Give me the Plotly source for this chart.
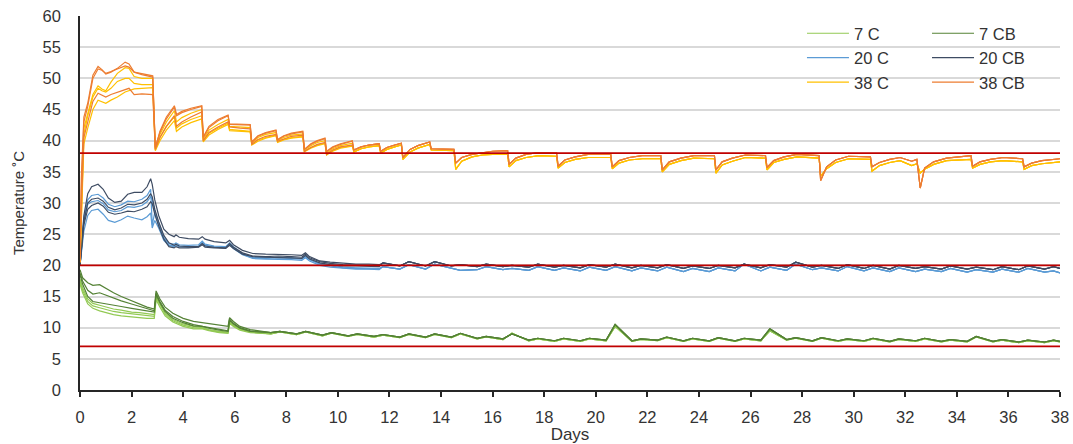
import plotly.graph_objects as go

# ---------------------------------------------------------------------------
# 38 °C treatment: first 10.5 days on a shared grid, one list per replicate
# ---------------------------------------------------------------------------
days_hot_early = [0, 0.05, 0.15, 0.3, 0.5, 0.7, 0.85, 1.0, 1.2, 1.45, 1.75, 1.9,
                  2.1, 2.4, 2.82, 2.92, 3.1, 3.35, 3.66, 3.74, 3.95, 4.3, 4.72,
                  4.78, 5.0, 5.35, 5.74, 5.8, 6.2, 6.6, 6.66, 6.9, 7.2, 7.6, 7.66,
                  7.9, 8.2, 8.64, 8.7, 8.95, 9.2, 9.5, 9.56, 9.8, 10.1, 10.56]

hot_cb1_early = [21, 34, 43.8, 46.0, 50.5, 51.9, 51.4, 50.7, 51.0, 51.6, 52.6, 52.3,
                 51.0, 50.8, 50.4, 38.8, 41.5, 43.8, 45.6, 44.2, 44.7, 45.2, 45.6,
                 40.6, 42.3, 43.4, 44.1, 42.7, 42.7, 42.6, 39.8, 40.8, 41.3, 41.7, 40.2,
                 40.8, 41.2, 41.5, 38.6, 39.5, 40.0, 40.4, 38.3, 39.0, 39.5, 40.0]
hot_cb2_early = [21, 32, 43.0, 45.5, 50.0, 51.5, 51.3, 50.8, 51.1, 51.5, 52.0, 51.8,
                 51.0, 50.6, 50.2, 39.0, 41.3, 43.5, 45.4, 44.0, 44.5, 45.0, 45.5,
                 40.5, 42.1, 43.2, 44.0, 42.6, 42.6, 42.5, 39.7, 40.7, 41.2, 41.6, 40.1,
                 40.7, 41.1, 41.4, 38.6, 39.4, 39.9, 40.3, 38.2, 38.9, 39.4, 39.9]
hot_cb3_early = [20.5, 29, 40.5, 43.2, 46.3, 47.6, 47.3, 47.0, 47.4, 47.8, 48.2, 48.4,
                 47.4, 47.5, 47.4, 38.6, 40.5, 42.3, 44.0, 42.3, 43.0, 43.8, 44.6,
                 40.0, 41.3, 42.2, 43.0, 42.2, 42.0, 41.9, 39.4, 40.2, 40.7, 41.0, 39.9,
                 40.3, 40.7, 40.9, 38.3, 38.9, 39.4, 39.7, 37.8, 38.5, 39.0, 39.3]
hot_c1_early = [20.5, 30, 42.0, 44.5, 47.4, 48.8, 48.3, 48.0, 49.4, 50.8, 51.7, 51.6,
                50.3, 50.0, 50.0, 38.7, 41.0, 43.0, 44.8, 43.0, 43.7, 44.4, 45.0,
                40.3, 41.7, 42.6, 43.4, 42.3, 42.2, 42.1, 39.6, 40.5, 41.0, 41.3, 40.0,
                40.5, 40.9, 41.1, 38.5, 39.2, 39.7, 40.0, 38.0, 38.7, 39.2, 39.6]
hot_c2_early = [20.5, 28, 41.0, 44.0, 47.0, 48.4, 48.0, 47.8, 48.4, 49.5, 50.0, 50.0,
                49.2, 49.0, 49.0, 38.5, 40.5, 42.3, 43.8, 42.0, 42.7, 43.4, 44.0,
                40.0, 41.2, 42.0, 42.8, 41.8, 41.6, 41.5, 39.4, 40.1, 40.5, 40.9, 39.8,
                40.2, 40.5, 40.7, 38.3, 38.9, 39.3, 39.6, 37.8, 38.4, 38.9, 39.2]
hot_c3_early = [20.5, 27, 39.5, 42.0, 45.0, 46.5, 46.2, 46.0, 46.5, 47.0, 47.8, 48.0,
                48.3, 48.4, 48.5, 38.4, 40.0, 41.7, 43.2, 41.5, 42.2, 42.9, 43.5,
                39.8, 40.9, 41.8, 42.6, 41.6, 41.5, 41.4, 39.3, 39.9, 40.4, 40.8, 39.7,
                40.1, 40.4, 40.6, 38.2, 38.8, 39.2, 39.5, 37.7, 38.3, 38.8, 39.1]

# 38 °C treatment: remainder of the run, replicates of a series coincide
days_hot_late = [10.62, 10.9, 11.2, 11.6, 11.66, 11.9, 12.2, 12.46, 12.52, 12.8, 13.1,
                 13.56, 13.62, 14.0, 14.5, 14.57, 14.8, 15.2, 15.6, 16.0, 16.58, 16.64,
                 16.9, 17.3, 17.8, 18.48, 18.54, 18.8, 19.2, 19.7, 20.58, 20.64, 20.9,
                 21.3, 21.8, 22.52, 22.58, 22.85, 23.3, 23.8, 24.6, 24.66, 24.9, 25.3,
                 25.8, 26.58, 26.64, 26.9, 27.3, 27.8, 28.66, 28.72, 28.95, 29.3, 29.8,
                 30.65, 30.71, 31.0, 31.4, 31.8, 32.25, 32.45, 32.58, 32.75, 33.1, 33.6,
                 34.55, 34.61, 34.9, 35.3, 35.8, 36.55, 36.61, 36.9, 37.3, 38.0]
hot_cb_late = [38.5, 39.0, 39.3, 39.5, 38.3, 38.9, 39.3, 39.6, 37.3, 38.6, 39.2,
               39.8, 38.7, 38.7, 38.6, 36.4, 37.3, 37.8, 38.1, 38.3, 38.4, 36.2,
               37.2, 37.8, 38.1, 38.0, 35.9, 36.9, 37.4, 37.8, 37.8, 35.8, 36.8,
               37.3, 37.6, 37.6, 35.3, 36.6, 37.2, 37.6, 37.6, 35.3, 36.6, 37.2,
               37.7, 37.6, 35.7, 36.8, 37.4, 37.8, 37.6, 33.6, 35.8, 36.9, 37.5,
               37.4, 35.8, 36.5, 37.0, 37.3, 36.7, 37.0, 32.4, 35.6, 36.6, 37.2,
               37.6, 35.9, 36.6, 37.0, 37.3, 37.1, 35.8, 36.4, 36.8, 37.1]
hot_c_late = [38.2, 38.7, 39.0, 39.2, 38.0, 38.6, 39.0, 39.3, 37.0, 38.2, 38.8,
              39.4, 38.5, 38.5, 38.4, 35.4, 36.7, 37.4, 37.7, 37.8, 37.8, 35.8,
              36.8, 37.3, 37.6, 37.5, 35.6, 36.5, 37.0, 37.3, 37.3, 35.5, 36.4,
              36.9, 37.1, 37.1, 35.0, 36.2, 36.8, 37.2, 37.1, 34.8, 36.1, 36.7,
              37.3, 37.2, 35.3, 36.5, 37.0, 37.4, 37.2, 34.3, 35.5, 36.5, 37.1,
              37.0, 35.1, 36.0, 36.5, 36.8, 36.0, 36.3, 34.8, 35.4, 36.2, 36.8,
              37.0, 35.6, 36.2, 36.6, 36.8, 36.6, 35.4, 36.0, 36.3, 36.6]

# ---------------------------------------------------------------------------
# 20 °C treatment
# ---------------------------------------------------------------------------
days_mid_early = [0, 0.05, 0.15, 0.3, 0.45, 0.7, 0.9, 1.1, 1.35, 1.6, 1.85, 2.1, 2.4,
                  2.6, 2.74, 2.8, 2.9, 3.05, 3.25, 3.45, 3.65, 3.72, 3.85, 4.2, 4.6,
                  4.74, 4.85, 5.2, 5.65, 5.8, 5.95, 6.3, 6.7, 7.2, 7.7, 8.2, 8.6, 8.74,
                  8.9, 9.3, 9.7, 10.2, 10.7, 11.2, 11.6]

mid_cb1_early = [20.0, 23, 28, 31.5, 32.6, 33.0, 32.2, 30.8, 30.1, 30.3, 31.4, 31.7, 31.7,
                 32.6, 33.9, 33.0, 30.5, 28.0, 25.8, 25.0, 24.6, 24.9, 24.5, 24.3, 24.2,
                 24.6, 24.2, 23.8, 23.6, 24.0, 23.3, 22.4, 21.9, 21.8, 21.8, 21.7, 21.6,
                 22.0, 21.4, 20.7, 20.5, 20.3, 20.2, 20.2, 20.1]
mid_cb2_early = [20.0, 22.5, 27, 30, 30.6, 30.8, 30.3, 29.3, 28.9, 29.2, 29.8, 29.7, 30.0,
                 30.6, 31.5, 31.0, 29.0, 27.0, 24.8, 23.6, 23.2, 23.4, 23.1, 23.0, 23.0,
                 23.5, 23.1, 22.9, 22.8, 23.5, 22.9, 22.0, 21.5, 21.4, 21.5, 21.4, 21.3,
                 21.8, 21.2, 20.6, 20.3, 20.1, 20.0, 20.0, 19.9]
mid_cb3_early = [20.0, 22, 26.5, 29, 29.6, 30.0, 29.5, 28.5, 28.2, 28.4, 28.7, 28.6, 29.0,
                 29.4, 30.2, 29.9, 28.2, 26.3, 24.2, 23.0, 22.8, 23.0, 22.8, 22.8, 22.9,
                 23.3, 22.9, 22.8, 22.7, 23.2, 22.7, 21.8, 21.4, 21.3, 21.3, 21.2, 21.1,
                 21.6, 21.0, 20.4, 20.1, 19.9, 19.9, 19.8, 19.8]
mid_c1_early = [20.0, 23, 27.5, 30.5, 31.2, 31.4, 30.8, 29.8, 29.4, 29.7, 30.3, 30.2, 30.6,
                31.2, 32.2, 26.5, 28.5, 26.8, 24.5, 23.5, 23.4, 23.6, 23.3, 23.2, 23.3,
                23.9, 23.4, 23.1, 23.0, 23.6, 23.0, 21.9, 21.3, 21.2, 21.3, 21.2, 21.1,
                21.5, 21.0, 20.3, 20.0, 19.7, 19.6, 19.6, 19.5]
mid_c2_early = [20.0, 22.5, 27, 29.8, 30.2, 30.4, 29.9, 28.9, 28.6, 28.8, 29.4, 29.3, 29.6,
                30.2, 31.0, 30.5, 28.6, 26.5, 24.3, 23.3, 23.1, 23.3, 23.1, 23.0, 23.1,
                23.7, 23.2, 23.0, 22.9, 23.4, 22.8, 21.8, 21.2, 21.1, 21.2, 21.1, 21.0,
                21.4, 20.9, 20.2, 19.9, 19.6, 19.5, 19.5, 19.4]
mid_c3_early = [20.0, 22, 25.5, 28, 28.8, 29.0, 28.2, 27.2, 26.9, 27.3, 27.9, 27.6, 27.3,
                27.8, 28.4, 26.0, 27.2, 26.0, 24.0, 23.2, 23.0, 23.2, 23.0, 22.9, 23.0,
                23.6, 23.1, 22.9, 22.8, 23.3, 22.7, 21.7, 21.1, 21.0, 21.0, 20.9, 20.8,
                21.2, 20.7, 20.0, 19.7, 19.5, 19.4, 19.4, 19.3]

days_mid_late = [11.75, 12.4, 12.75, 13.4, 13.75, 14.4, 14.75, 15.4, 15.75, 16.4, 16.75,
                 17.4, 17.75, 18.4, 18.75, 19.4, 19.75, 20.4, 20.75, 21.4, 21.75, 22.4,
                 22.75, 23.4, 23.75, 24.4, 24.75, 25.4, 25.75, 26.4, 26.75, 27.4, 27.75,
                 28.4, 28.75, 29.4, 29.75, 30.4, 30.75, 31.4, 31.75, 32.4, 32.75, 33.4,
                 33.75, 34.4, 34.75, 35.4, 35.75, 36.4, 36.75, 37.4, 37.75, 38.0]
mid_cb_late = [20.4, 19.9, 20.6, 19.9, 20.6, 19.9, 20.1, 19.8, 20.2, 19.8, 20.0,
               19.7, 20.2, 19.7, 20.0, 19.6, 20.1, 19.7, 20.2, 19.6, 20.0, 19.6,
               20.1, 19.5, 19.9, 19.5, 20.0, 19.6, 20.2, 19.6, 20.1, 19.7, 20.5,
               19.7, 20.0, 19.5, 20.1, 19.5, 20.0, 19.4, 20.0, 19.5, 19.8, 19.4,
               19.9, 19.4, 19.7, 19.3, 19.8, 19.3, 19.9, 19.4, 19.8, 19.5]
mid_c_late = [19.8, 19.4, 20.1, 19.4, 20.2, 19.5, 19.2, 19.3, 19.8, 19.3, 19.5,
              19.2, 19.8, 19.2, 19.6, 19.1, 19.7, 19.2, 19.8, 19.1, 19.6, 19.1,
              19.7, 19.0, 19.5, 19.0, 19.6, 19.1, 20.2, 19.1, 19.7, 19.2, 20.2,
              19.3, 19.6, 19.1, 19.8, 19.1, 19.6, 19.0, 19.6, 19.0, 19.4, 19.0,
              19.5, 18.9, 19.3, 18.9, 19.4, 18.9, 19.5, 18.9, 19.1, 18.8]

# ---------------------------------------------------------------------------
# 7 °C treatment
# ---------------------------------------------------------------------------
days_cold_early = [0, 0.1, 0.3, 0.5, 0.76, 1.0, 1.3, 1.6, 2.0, 2.3, 2.6, 2.88, 2.95,
                   3.1, 3.3, 3.6, 4.0, 4.4, 4.75, 5.0, 5.4, 5.74, 5.8, 5.95, 6.2, 6.6]

cold_cb1_early = [19.3, 18.0, 17.2, 16.8, 16.9, 16.3, 15.6, 15.0, 14.3, 13.8, 13.3, 13.0,
                  15.9, 14.6, 13.3, 12.3, 11.5, 11.0, 10.8, 10.6, 10.4, 10.2, 11.6, 11.0,
                  10.2, 9.7]
cold_cb2_early = [18.8, 17.5, 16.0, 15.4, 15.6, 15.2, 14.7, 14.3, 13.8, 13.4, 13.0, 12.7,
                  15.5, 14.2, 12.8, 11.8, 11.0, 10.5, 10.2, 10.0, 9.7, 9.5, 11.4, 10.7,
                  10.0, 9.5]
cold_cb3_early = [18.5, 17.0, 15.0, 14.2, 14.0, 13.8, 13.6, 13.4, 13.1, 12.9, 12.7, 12.5,
                  15.3, 14.0, 12.6, 11.5, 10.8, 10.3, 10.2, 9.9, 9.6, 9.4, 11.2, 10.6,
                  9.9, 9.4]
cold_c1_early = [17.8, 16.4, 14.6, 13.9, 13.6, 13.3, 13.0, 12.8, 12.5, 12.4, 12.2, 12.1,
                 15.0, 13.8, 12.4, 11.3, 10.6, 10.2, 10.0, 9.7, 9.4, 9.3, 11.0, 10.4,
                 9.8, 9.3]
cold_c2_early = [17.5, 16.0, 14.2, 13.5, 13.2, 12.9, 12.6, 12.4, 12.2, 12.0, 11.9, 11.8,
                 14.8, 13.6, 12.2, 11.1, 10.4, 10.0, 9.9, 9.6, 9.3, 9.2, 10.9, 10.3,
                 9.7, 9.3]
cold_c3_early = [17.0, 15.6, 13.8, 13.1, 12.7, 12.4, 12.1, 11.9, 11.7, 11.6, 11.5, 11.5,
                 14.5, 13.3, 11.9, 10.9, 10.2, 9.8, 9.8, 9.5, 9.2, 9.1, 10.7, 10.2,
                 9.6, 9.2]

days_cold_late = [7.4, 7.75, 8.4, 8.75, 9.4, 9.75, 10.4, 10.75, 11.4, 11.75, 12.4, 12.75,
                  13.4, 13.75, 14.4, 14.75, 15.4, 15.75, 16.4, 16.75, 17.4, 17.75, 18.4,
                  18.75, 19.4, 19.75, 20.4, 20.75, 21.4, 21.75, 22.4, 22.75, 23.4, 23.75,
                  24.4, 24.75, 25.4, 25.75, 26.4, 26.75, 27.4, 27.75, 28.4, 28.75, 29.4,
                  29.75, 30.4, 30.75, 31.4, 31.75, 32.4, 32.75, 33.4, 33.75, 34.4, 34.75,
                  35.4, 35.75, 36.4, 36.75, 37.4, 37.75, 38.0]
cold_cb_late = [9.2, 9.4, 9.0, 9.4, 8.8, 9.2, 8.7, 9.0, 8.6, 8.9, 8.5, 9.0,
                8.5, 9.0, 8.5, 9.1, 8.3, 8.6, 8.2, 9.0, 8.0, 8.3, 7.9,
                8.3, 7.9, 8.3, 8.0, 10.5, 7.9, 8.2, 8.0, 8.5, 7.9, 8.3,
                7.9, 8.4, 7.9, 8.3, 8.0, 9.8, 8.1, 8.4, 7.9, 8.4, 7.9,
                8.2, 7.9, 8.3, 7.8, 8.2, 7.9, 8.3, 7.8, 8.1, 7.8, 8.6,
                7.8, 8.1, 7.7, 8.0, 7.7, 8.0, 7.8]
cold_c_late = [9.0, 9.3, 8.9, 9.3, 8.7, 9.1, 8.6, 8.9, 8.5, 8.8, 8.4, 8.9,
               8.4, 8.9, 8.4, 9.0, 8.2, 8.5, 8.1, 9.1, 7.9, 8.2, 7.8,
               8.2, 7.8, 8.2, 7.9, 10.2, 7.8, 8.1, 7.9, 8.4, 7.8, 8.2,
               7.8, 8.3, 7.8, 8.2, 7.9, 9.5, 8.0, 8.3, 7.8, 8.3, 7.8,
               8.1, 7.8, 8.2, 7.7, 8.1, 7.8, 8.2, 7.7, 8.0, 7.7, 8.5,
               7.7, 8.0, 7.6, 7.9, 7.6, 7.9, 7.7]

# Target set points drawn as horizontal reference lines
set_points = [7, 20, 38]

x_ticks = list(range(0, 39, 2))

series = [
    # name, colour, legend column, early grid, replicate lists, late grid, late values
    ("7 C", "#92c953", "legend", days_cold_early,
     [cold_c1_early, cold_c2_early, cold_c3_early], days_cold_late, cold_c_late),
    ("7 CB", "#548235", "legend2", days_cold_early,
     [cold_cb1_early, cold_cb2_early, cold_cb3_early], days_cold_late, cold_cb_late),
    ("20 C", "#5b9bd5", "legend", days_mid_early,
     [mid_c1_early, mid_c2_early, mid_c3_early], days_mid_late, mid_c_late),
    ("20 CB", "#3e4c63", "legend2", days_mid_early,
     [mid_cb1_early, mid_cb2_early, mid_cb3_early], days_mid_late, mid_cb_late),
    ("38 C", "#ffc000", "legend", days_hot_early,
     [hot_c1_early, hot_c2_early, hot_c3_early], days_hot_late, hot_c_late),
    ("38 CB", "#ed7d31", "legend2", days_hot_early,
     [hot_cb1_early, hot_cb2_early, hot_cb3_early], days_hot_late, hot_cb_late),
]

fig = go.Figure()

for name, colour, legend_id, d_early, reps, d_late, v_late in series:
    for i, rep in enumerate(reps):
        fig.add_trace(go.Scatter(
            x=d_early + d_late,
            y=rep + v_late,
            mode="lines",
            name=name,
            legend=legend_id,
            legendgroup=name,
            showlegend=(i == 0),
            line=dict(color=colour, width=1.2),
            hoverinfo="skip",
        ))

for sp in set_points:
    fig.add_hline(y=sp, line=dict(color="#c00000", width=1.6), layer="above")

# White panel behind the legend entries
fig.add_shape(type="rect", xref="paper", yref="paper",
              x0=0.709, x1=0.995, y0=0.762, y1=0.989,
              fillcolor="white", line=dict(width=0), layer="between")

font_family = "Liberation Sans, Arial, sans-serif"
text_colour = "#333333"

legend_common = dict(
    orientation="v",
    xanchor="left",
    yanchor="top",
    bgcolor="rgba(0,0,0,0)",
    borderwidth=0,
    font=dict(family=font_family, size=16.5, color=text_colour),
    itemwidth=42,
    tracegroupgap=0,
    traceorder="grouped",
)

fig.update_layout(
    width=1073,
    height=444,
    margin=dict(l=80, r=13, t=16, b=54, autoexpand=False),
    paper_bgcolor="white",
    plot_bgcolor="white",
    font=dict(family=font_family, size=16.5, color=text_colour),
    legend=dict(x=0.7367, y=1.0, **legend_common),
    legend2=dict(x=0.8643, y=1.0, **legend_common),
    xaxis=dict(
        range=[0, 38],
        tickvals=x_ticks,
        ticks="outside",
        ticklen=5,
        tickwidth=1.5,
        tickcolor="#262626",
        showline=True,
        linecolor="#262626",
        linewidth=1.5,
        showgrid=False,
        zeroline=False,
        automargin=False,
        ticklabelstandoff=6,
        tickfont=dict(size=16.5),
        title=dict(text="Days", font=dict(size=17), standoff=8),
    ),
    yaxis=dict(
        range=[0, 60],
        dtick=5,
        ticks="",
        showline=True,
        linecolor="#262626",
        linewidth=1.5,
        showgrid=True,
        gridcolor="#d9d9d9",
        gridwidth=1.6,
        zeroline=False,
        automargin=False,
        ticklabelstandoff=14,
        tickfont=dict(size=16.5),
        title=dict(text="Temperature ˚C", font=dict(size=15), standoff=14),
    ),
)

fig.write_html("out.html")
